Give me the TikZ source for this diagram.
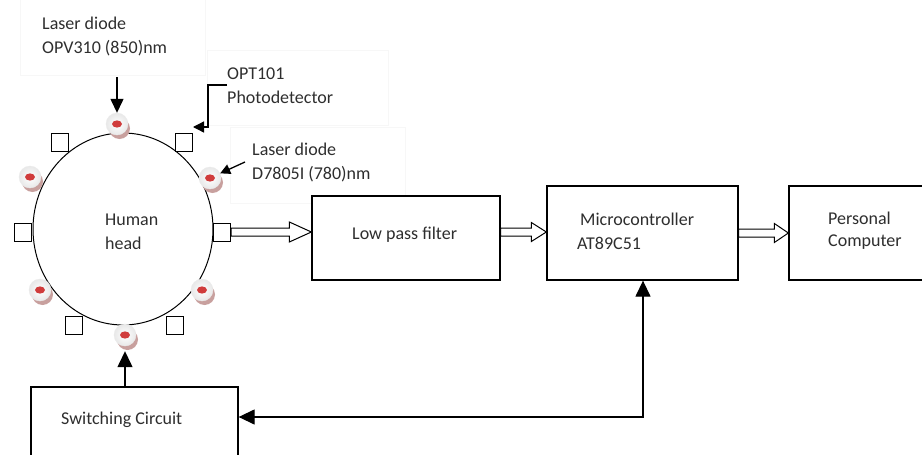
\documentclass[tikz,border=0pt]{standalone}
\usepackage{fontspec}
\setmainfont{Carlito}
\usetikzlibrary{arrows.meta,calc}
\definecolor{dotred}{RGB}{208,60,60}
\definecolor{shadowc}{RGB}{200,160,158}
\newcommand\hollowarrow[5]{%
  \draw[hollow] let \p1=#1, \p2=#2, \p3=(0,#3) in
    (\x1,\y3+4pt) -- (\x2-#4pt,\y3+4pt) -- (\x2-#4pt,\y3+#5pt) -- (\x2,\y3)
    -- (\x2-#4pt,\y3-#5pt) -- (\x2-#4pt,\y3-4pt) -- (\x1,\y3-4pt) -- cycle;}
\newcommand\diodeat[3]{%
  \fill[shadowc] (#2+2.5,#3+4.5) circle (10.5pt);
  \node[diodedisc] (#1) at (#2,#3) {};
  \fill[dotred] (#1.center) ellipse (5pt and 3.6pt);}
\begin{document}
\begin{tikzpicture}[x=1pt,y=-1pt,
  txt/.style={font=\fontsize{18}{22}\selectfont, inner sep=0pt, anchor=base west, text=black!82},
  blk/.style={draw, line width=1.3pt, fill=white, inner sep=0pt},
  sq/.style={draw, line width=1pt, fill=white, minimum width=17pt, minimum height=18pt, inner sep=0pt},
  diodedisc/.style={circle, minimum size=22pt, inner sep=0pt, inner color=white, outer color=black!9, draw=black!8, line width=0.4pt},
  hollow/.style={draw, line width=1pt, fill=white},
  faint/.style={draw=black!3, line width=0.5pt},
  arr/.style={line width=1.3pt, -{Triangle[length=14pt,width=13pt]}},
  sarr/.style={line width=1.3pt, -{Triangle[length=11pt,width=11pt]}}]
\useasboundingbox (0,0) rectangle (922,455);
\clip (0,0) rectangle (922,455);

% faint text frames
\draw[faint] (20,-2) rectangle (205,75);
\draw[faint] (207,50) rectangle (388,125);
\draw[faint] (230,127) rectangle (405,203);

% head
\draw[line width=1pt] (123,229) ellipse (90pt and 96pt);
\node[draw=none, inner sep=0pt, minimum width=180pt, minimum height=192pt] (head) at (123,229) {};

% photodetector squares
\node[sq] (sqTL) at (60,142) {};
\node[sq] (sqTR) at (184,142) {};
\node[sq] (sqL)  at (23,232) {};
\node[sq] (sqR)  at (222,232) {};
\node[sq] (sqBL) at (74,325) {};
\node[sq] (sqBR) at (175,325) {};

% laser diodes
\diodeat{d1}{117}{124}
\diodeat{d2}{30}{177}
\diodeat{d3}{210}{178}
\diodeat{d4}{40}{290}
\diodeat{d5}{202}{290}
\diodeat{d6}{125}{335}

% head text
\node[txt] (hum1) at (105,225) {Human};
\node[txt] (hum2) at (105,249) {head};

% labels
\node[txt] (l1a) at (42,29) {Laser diode};
\node[txt] (l1b) at (42,53) {OPV310 (850)nm};
\node[txt] (l2a) at (227,79) {OPT101};
\node[txt] (l2b) at (227,103) {Photodetector};
\node[txt] (l3a) at (252,155) {Laser diode};
\node[txt] (l3b) at (252,179) {D7805I (780)nm};

% label arrows
\coordinate (a1s) at (117,77);
\draw[arr] (a1s) -- (d1);
\coordinate (a2s) at (227,85);
\draw[sarr] (a2s) -- (208,85) |- (193,127);
\coordinate (a3s) at (245,162);
\draw[line width=1.3pt, -{Triangle[length=10pt,width=10pt]}] (a3s) -- (d3);

% blocks
\node[blk, minimum width=188pt, minimum height=84pt] (lpf) at (406,238) {};
\node[txt] (lpft) at (352,239) {Low pass filter};
\node[blk, minimum width=191pt, minimum height=94pt] (mc) at (642.5,233) {};
\node[txt] (mct1) at (580,225) {Microcontroller};
\node[txt] (mct2) at (577,249) {AT89C51};
\node[blk, minimum width=150pt, minimum height=94pt] (pc) at (864,233) {};
\node[txt] (pct1) at (828,224) {Personal};
\node[txt] (pct2) at (828,246) {Computer};
\node[blk, minimum width=207pt, minimum height=90pt] (sw) at (134.5,432) {};
\node[txt] (swt) at (61,424) {Switching Circuit};

% hollow data arrows
\hollowarrow{(sqR.east)}{(lpf.west)}{232}{22}{10}
\hollowarrow{(lpf.east)}{(mc.west)}{232}{15}{9.5}
\hollowarrow{(mc.east)}{(pc.west)}{233}{14}{9.5}

% control arrows
\draw[line width=1.3pt, -{Triangle[length=16pt,width=15pt]}] (sw.north -| d6) -- ($(d6.south)+(0,5)$);
\coordinate (fb) at (643,417);
\draw[line width=1.3pt, {Triangle[length=16pt,width=15pt]}-{Triangle[length=16pt,width=15pt]}]
  (sw.east |- fb) -- (fb) -- (fb |- mc.south);
\end{tikzpicture}
\end{document}
